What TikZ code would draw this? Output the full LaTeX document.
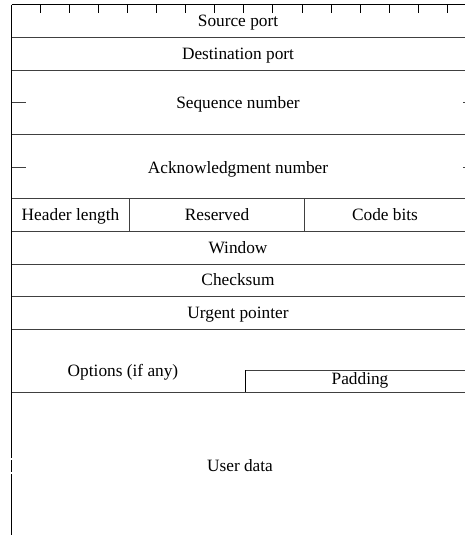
\documentclass[tikz,border=0pt]{standalone}
\usepackage{fontspec}
\setmainfont{Liberation Serif}
\begin{document}
\begin{tikzpicture}[x=1pt,y=-1pt,
  lbl/.style={inner sep=0pt,anchor=center,text height=11pt,text depth=0pt,font=\fontsize{17.3}{19}\selectfont},
  rule/.style={draw=black!75,line width=1pt},
  edge/.style={draw=black,line width=1.5pt},
  tick/.style={draw=black,line width=1pt}]
\useasboundingbox (0,0) rectangle (465,535);
% outer frame
\draw[edge] (11.5,5) -- (11.5,457.7);
\draw[edge] (11.5,460) -- (11.5,471.7);
\draw[edge] (11.5,474.3) -- (11.5,535);
\draw[tick] (11.5,5) -- (465,5);
\foreach \k in {0,...,14} {\draw[tick] ({40+29.12*\k},5) -- ({40+29.12*\k},13);}
% row separators
\foreach \yy in {38,70,134,198,231,264,296,329,392} {\draw[rule] (11.5,\yy) -- (465,\yy);}
% mid ticks for 32-bit fields
\draw[rule] (11.5,102.5) -- (26,102.5);
\draw[rule] (463,102.5) -- (465,102.5);
\draw[rule] (11.5,167.5) -- (26,167.5);
\draw[rule] (463,167.5) -- (465,167.5);
% header length row
\draw[rule] (129.5,198) -- (129.5,231);
\draw[rule] (304.5,198) -- (304.5,231);
% padding
\draw[rule] (245,370) -- (465,370);
\draw[draw=black,line width=1pt] (245,370) -- (245,392);
% labels
\node[lbl] (src) at (238,21.5) {Source port};
\node[lbl] (dst) at (238,54) {Destination port};
\node[lbl] (seq) at (238,102.5) {Sequence number};
\node[lbl] (ack) at (238,168) {Acknowledgment number};
\node[lbl] (hl) at (70.5,215) {Header length};
\node[lbl] (res) at (217,215) {Reserved};
\node[lbl] (code) at (385,215) {Code bits};
\node[lbl] (win) at (238,247.5) {Window};
\node[lbl] (chk) at (238,280) {Checksum};
\node[lbl] (urg) at (238,312.5) {Urgent pointer};
\node[lbl] (opt) at (123,371) {Options (if any)};
\node[lbl] (pad) at (360,379) {Padding};
\node[lbl] (data) at (240,466) {User data};
\end{tikzpicture}
\end{document}
